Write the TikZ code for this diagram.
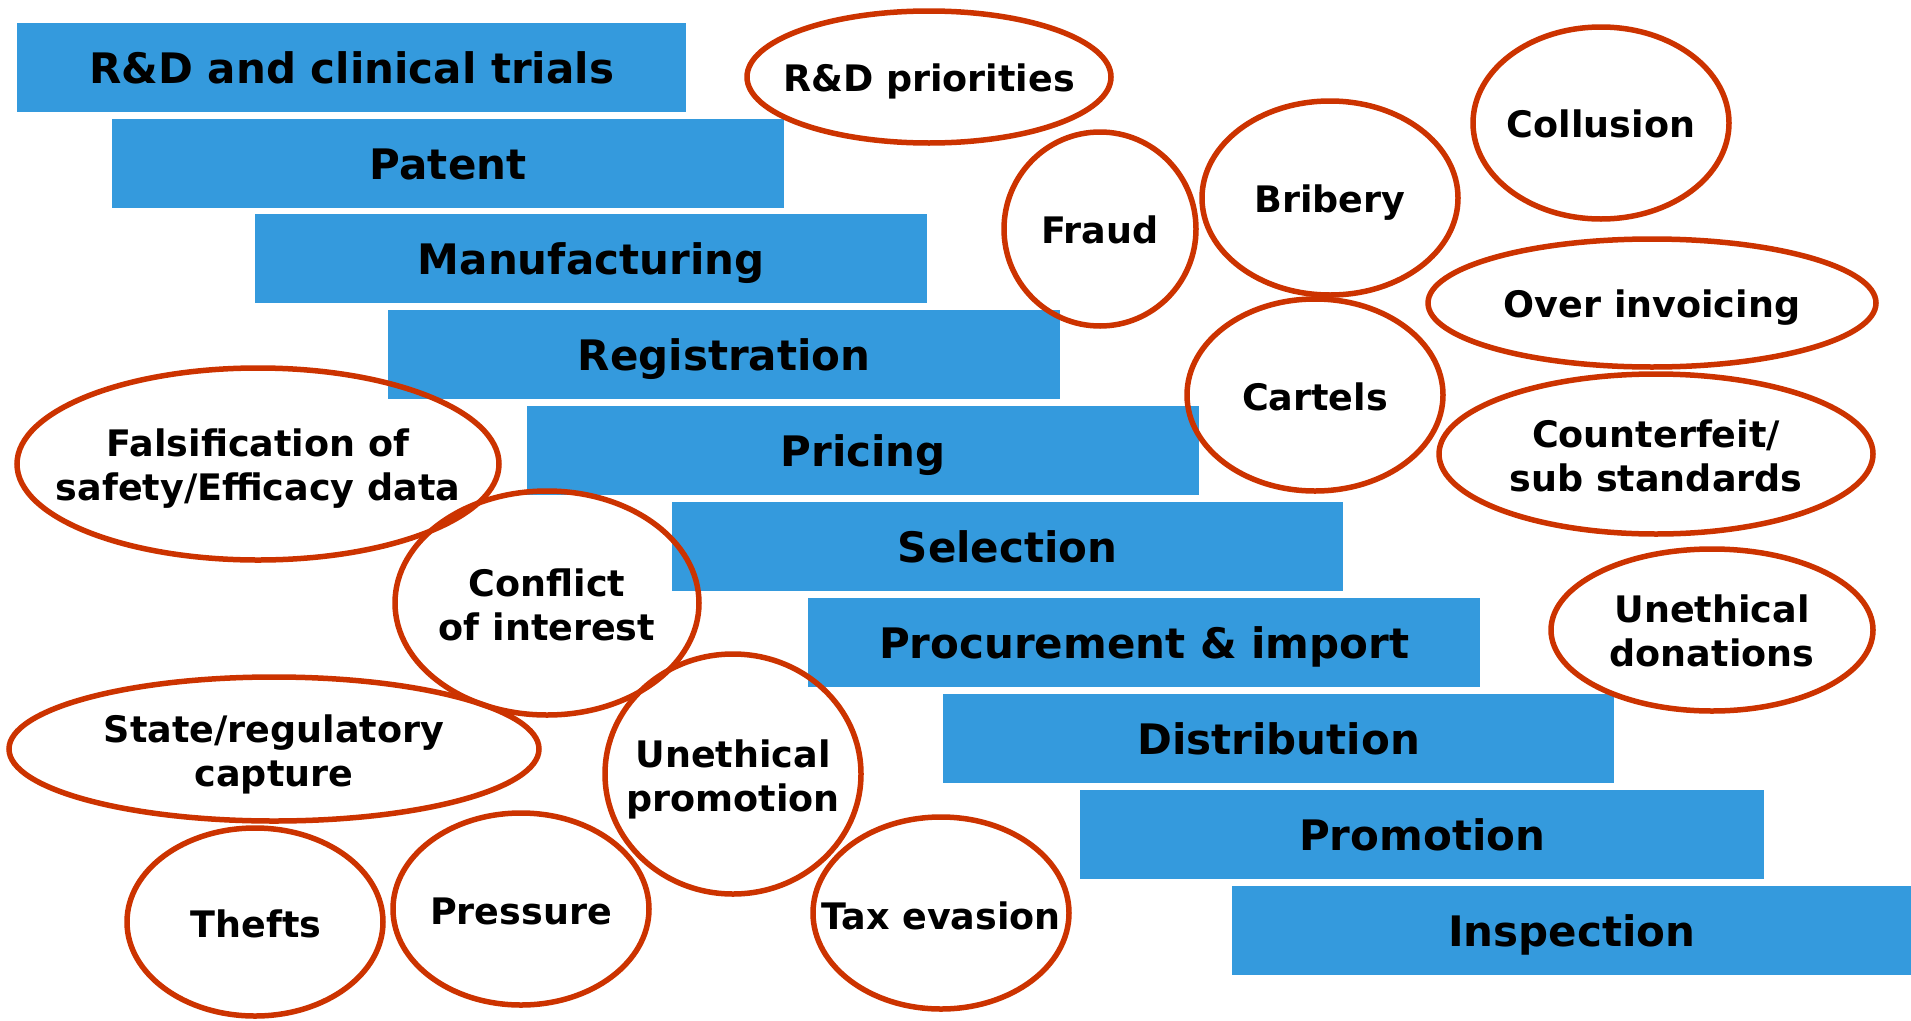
\documentclass[tikz,border=0pt]{standalone}
\usepackage{fontspec}
\setmainfont{DejaVu Sans}
\definecolor{stageblue}{RGB}{52,154,221}
\definecolor{riskred}{RGB}{204,51,0}
\begin{document}
\begin{tikzpicture}[x=1pt,y=-1pt,
  stagebox/.style={fill=stageblue,draw=none,anchor=north west,inner sep=0pt,
     minimum height=89pt,font=\bfseries\fontsize{42}{48}\selectfont,text=black,
     text height=32pt,text depth=0pt},
  risktext/.style={inner sep=0pt,align=center,font=\bfseries\fontsize{36.5}{44}\selectfont,text=black},
  risklbl/.style={risktext,text height=27.7pt,text depth=0pt,yshift=-0.5pt},
  riskpair/.style={risktext,yshift=-3pt},
  ring/.style={draw=riskred,line width=5.5pt}]
\useasboundingbox[fill=white] (0,0) rectangle (1911,1020);
% stages
\node[stagebox,minimum width=669pt] (s1) at (17,23) {R\&D and clinical trials};
\node[stagebox,minimum width=672pt] (s2) at (112,119) {Patent};
\node[stagebox,minimum width=672pt] (s3) at (255,214) {Manufacturing};
\node[stagebox,minimum width=672pt] (s4) at (388,310) {Registration};
\node[stagebox,minimum width=672pt] (s5) at (527,406) {Pricing};
\node[stagebox,minimum width=671pt] (s6) at (672,502) {Selection};
\node[stagebox,minimum width=672pt] (s7) at (808,598) {Procurement \& import};
\node[stagebox,minimum width=671pt] (s8) at (943,694) {Distribution};
\node[stagebox,minimum width=684pt] (s9) at (1080,790) {Promotion};
\node[stagebox,minimum width=679pt] (s10) at (1232,886) {Inspection};
% risk labels
\node[risklbl] (rdp) at (929,77) {R\&D priorities};
\node[risklbl] (fraud) at (1100,229) {Fraud};
\node[risklbl] (brib) at (1330,198) {Bribery};
\node[risklbl] (coll) at (1601,123) {Collusion};
\node[risklbl] (over) at (1652,303) {Over invoicing};
\node[risklbl] (cart) at (1315,396) {Cartels};
\node[riskpair] (cntf) at (1656,453) {Counterfeit/\\sub standards};
\node[riskpair] (fals) at (258,466) {Falsification of\\safety/Efficacy data};
\node[riskpair] (conf) at (547,602) {Conflict\\of interest};
\node[riskpair] (udon) at (1712,628) {Unethical\\donations};
\node[riskpair] (state) at (274,751) {State/regulatory\\capture};
\node[riskpair] (uprom) at (733,776) {Unethical\\promotion};
\node[risklbl] (theft) at (256,923) {Thefts};
\node[risklbl] (press) at (521,910) {Pressure};
\node[risklbl] (tax) at (941,915) {Tax evasion};
% rings
\draw[ring] (929,77) ellipse [x radius=182pt, y radius=66pt];
\draw[ring] (1100,229) ellipse [x radius=96pt, y radius=97pt];
\draw[ring] (1330,198) ellipse [x radius=128pt, y radius=97pt];
\draw[ring] (1601,123) ellipse [x radius=128pt, y radius=96pt];
\draw[ring] (1652,303) ellipse [x radius=224pt, y radius=64pt];
\draw[ring] (1315,395) ellipse [x radius=128pt, y radius=96pt];
\draw[ring] (1656,454) ellipse [x radius=217pt, y radius=80pt];
\draw[ring] (258,464) ellipse [x radius=241pt, y radius=96pt];
\draw[ring] (547,603) ellipse [x radius=152pt, y radius=112pt];
\draw[ring] (1712,630) ellipse [x radius=161pt, y radius=81pt];
\draw[ring] (274,749) ellipse [x radius=265pt, y radius=72pt];
\draw[ring] (733,774) ellipse [x radius=128pt, y radius=120pt];
\draw[ring] (255,922) ellipse [x radius=128pt, y radius=94pt];
\draw[ring] (521,909) ellipse [x radius=128pt, y radius=96pt];
\draw[ring] (941,913) ellipse [x radius=128pt, y radius=96pt];
\end{tikzpicture}
\end{document}
